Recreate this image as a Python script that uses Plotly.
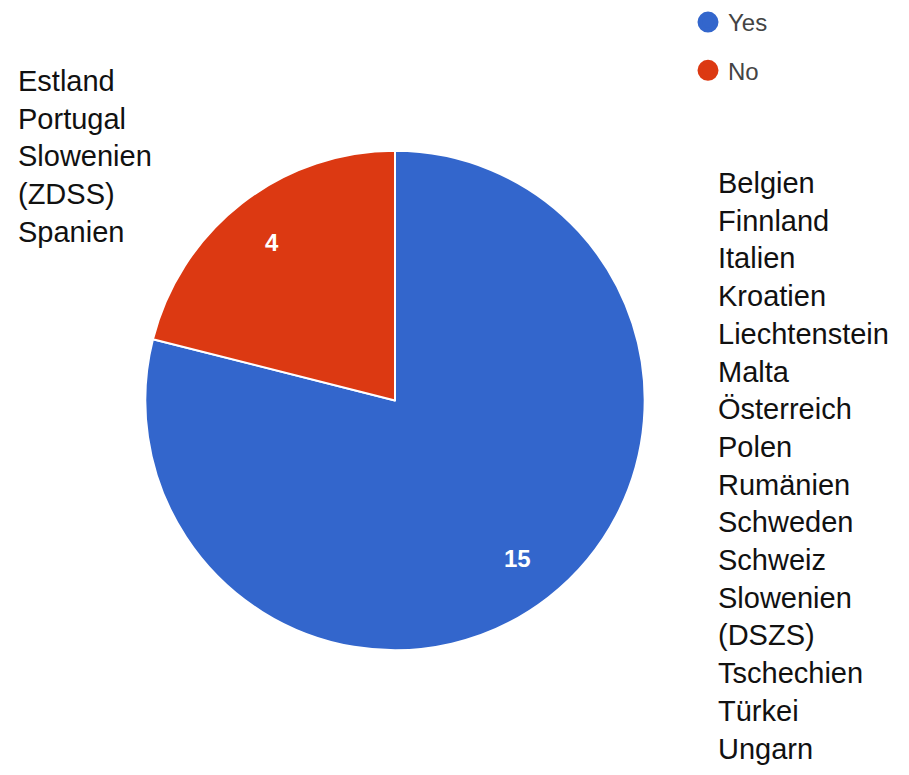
import math
import plotly.graph_objects as go

labels = ["Yes", "No"]
values = [15, 4]
colors = ["#3366CC", "#DC3912"]
no_countries = ["Estland", "Portugal", "Slowenien", "(ZDSS)", "Spanien"]
yes_countries = ["Belgien", "Finnland", "Italien", "Kroatien", "Liechtenstein", "Malta",
                 "Österreich", "Polen", "Rumänien", "Schweden", "Schweiz", "Slowenien",
                 "(DSZS)", "Tschechien", "Türkei", "Ungarn"]

W, H = 909, 775
cx, cy, R = 395, 400, 250

fig = go.Figure()
fig.add_trace(go.Pie(
    labels=labels, values=values, sort=False, direction="clockwise", rotation=0,
    marker=dict(colors=colors, line=dict(color="white", width=2)),
    textinfo="none", showlegend=False, hoverinfo="label+value",
    domain=dict(x=[(cx - R) / W, (cx + R) / W], y=[(H - cy - R) / H, (H - cy + R) / H]),
))
for i, (lab, col) in enumerate(zip(labels, colors)):
    fig.add_trace(go.Scatter(
        x=[None], y=[None], mode="markers", name=lab, legendgroup=lab,
        marker=dict(color=col, size=16, symbol="circle", line=dict(color=col, width=5)),
    ))

# slice value labels at each slice's mid-angle (clockwise from 12 o'clock)
total = sum(values)
cum = 0
for v in values:
    mid = (cum + v / 2) / total * 2 * math.pi
    cum += v
    px = cx + 0.80 * R * math.sin(mid)
    py = cy - 0.80 * R * math.cos(mid)
    fig.add_annotation(text=f"<b>{v}</b>", xref="paper", yref="paper",
                       x=px / W, y=1 - py / H, xanchor="center", yanchor="middle",
                       showarrow=False,
                       font=dict(family="Liberation Sans, Arial", size=24, color="white"))

font_list = dict(family="Liberation Sans, Arial", size=29, color="#111111")
fig.add_annotation(text="<br>".join(no_countries), xref="paper", yref="paper",
                   x=16 / W, y=1 - 62 / H, xanchor="left", yanchor="top", align="left",
                   showarrow=False, font=font_list)
fig.add_annotation(text="<br>".join(yes_countries), xref="paper", yref="paper",
                   x=716 / W, y=1 - 164 / H, xanchor="left", yanchor="top", align="left",
                   showarrow=False, font=font_list)

fig.update_layout(
    width=W, height=H, margin=dict(l=0, r=0, t=0, b=0),
    paper_bgcolor="white", plot_bgcolor="white",
    xaxis=dict(visible=False), yaxis=dict(visible=False),
    legend=dict(x=688 / W, y=1 + 1 / H, xanchor="left", yanchor="top",
                font=dict(family="Liberation Sans, Arial", size=24, color="#444444"),
                tracegroupgap=14, bgcolor="rgba(0,0,0,0)"),
)
fig.write_html("out.html")
